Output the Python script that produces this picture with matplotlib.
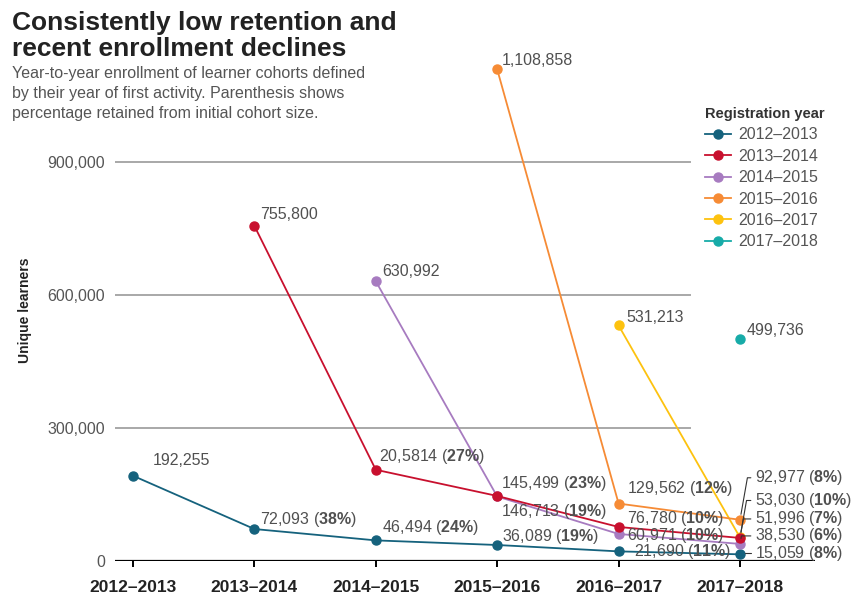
import matplotlib
matplotlib.use("Agg")
import matplotlib.pyplot as plt
from matplotlib.ticker import FuncFormatter

plt.rcParams["font.family"] = ["Liberation Sans", "DejaVu Sans"]
plt.rcParams["mathtext.fontset"] = "custom"
plt.rcParams["mathtext.rm"] = "Liberation Sans"
plt.rcParams["mathtext.bf"] = "Liberation Sans:bold"

# ---------------- Data ----------------
years = ["2012–2013", "2013–2014", "2014–2015", "2015–2016", "2016–2017", "2017–2018"]

c2012 = [192255, 72093, 46494, 36089, 21690, 15059]
c2013 = [755800, 205814, 146713, 76780, 51996]
c2014 = [630992, 145499, 60971, 38530]
c2015 = [1108858, 129562, 92977]
c2016 = [531213, 53030]
c2017 = [499736]

# printed labels (number, bold share) as in the source graphic
lab2012 = [("192,255", None), ("72,093", "38%"), ("46,494", "24%"), ("36,089", "19%"), ("21,690", "11%"), ("15,059", "8%")]
lab2013 = [("755,800", None), ("20,5814", "27%"), ("146,713", "19%"), ("76,780", "10%"), ("51,996", "7%")]
lab2014 = [("630,992", None), ("145,499", "23%"), ("60,971", "10%"), ("38,530", "6%")]
lab2015 = [("1,108,858", None), ("129,562", "12%"), ("92,977", "8%")]
lab2016 = [("531,213", None), ("53,030", "10%")]
lab2017 = [("499,736", None)]

series = [c2012, c2013, c2014, c2015, c2016, c2017]
labels = [lab2012, lab2013, lab2014, lab2015, lab2016, lab2017]
colors = ["#15627d", "#c8102e", "#a77bc0", "#f68b35", "#fdc20f", "#17aba8"]

# label offsets in pixels (dx, dy), per cohort and point
offsets = [
    [(20, 15), (6, 10), (6, 13), (5, 8), (15, 0), (15, 1)],
    [(6, 11), (3, 13), (4, -16), (8, 8), (15, 19)],
    [(6, 10), (4, 13), (8, -2), (15, 8)],
    [(5, 9), (8, 15), (15, 42)],
    [(8, 8), (15, 37)],
    [(7, 9)],
]

W, H = 857, 599
fig = plt.figure(figsize=(W / 100, H / 100), dpi=100)
ax = fig.add_axes([115 / W, 1 - 561 / H, 700 / W, (561 - 60) / H])
ax.set_xlim((115 - 133) / 121.4, (815 - 133) / 121.4)
ax.set_ylim(0, 1130000)

for s in ax.spines.values():
    s.set_visible(False)

for v in [300000, 600000, 900000]:
    ax.axhline(v, xmin=0, xmax=(690 - 115) / 700, color="#a8a8a8", lw=1.4, zorder=1)
ax.axhline(0, color="black", lw=1.6, zorder=2)

n = len(series)
for k in range(n):
    xs = list(range(k, k + len(series[k])))
    ax.plot(xs, series[k], color=colors[k], lw=1.3, marker="o", ms=6.5,
            label=years[k], zorder=10 - k if k > 0 else 3, clip_on=False)

for k in range(n):
    for j, (num, pct) in enumerate(labels[k]):
        x = k + j
        y = series[k][j]
        txt = num if pct is None else num + r" ($\mathbf{" + pct.replace("%", r"\%") + "}$)"
        kw = dict(textcoords="offset pixels", ha="left", va="center", fontsize=11.5,
                  color="#505050", zorder=20)
        if x == 5 and pct is not None:
            kw["arrowprops"] = dict(arrowstyle="-", color="#333333", lw=0.8, relpos=(0, 0.5),
                                    shrinkA=1, shrinkB=4,
                                    connectionstyle="angle,angleA=0,angleB=80,rad=0")
        ax.annotate(txt, xy=(x, y), xytext=offsets[k][j], **kw)

ax.set_xticks(range(len(years)))
ax.set_xticklabels(years, fontsize=12.5, fontweight="bold", color="#222222")
ax.tick_params(axis="x", direction="out", length=4.5, width=1.4, color="black", pad=9)
ax.set_yticks([0, 300000, 600000, 900000])
ax.yaxis.set_major_formatter(FuncFormatter(lambda v, p: f"{int(v):,}"))
ax.tick_params(axis="y", length=0, pad=7, labelsize=11.5, labelcolor="#555555")

leg = ax.legend(title="Registration year", loc="upper left",
                bbox_to_anchor=(705 / W, 1 - 107 / H), bbox_transform=fig.transFigure,
                frameon=False, fontsize=11.5, alignment="left",
                title_fontproperties={"weight": "bold", "size": 10.5},
                handlelength=1.6, handletextpad=0.5, labelspacing=0.4,
                borderpad=0, borderaxespad=0)
leg.get_title().set_color("#333333")
for t in leg.get_texts():
    t.set_color("#555555")

fig.text(25 / W, 1 - 310 / H, "Unique learners", rotation=90, ha="center", va="center",
         fontsize=10, fontweight="bold", color="#222222")
fig.text(12 / W, 1 - 11 / H, "Consistently low retention and\nrecent enrollment declines",
         ha="left", va="top", fontsize=19, fontweight="bold", color="#222222", linespacing=1.12)
fig.text(12 / W, 1 - 66 / H,
         "Year-to-year enrollment of learner cohorts defined\nby their year of first activity. Parenthesis shows\npercentage retained from initial cohort size.",
         ha="left", va="top", fontsize=11.5, color="#555555", linespacing=1.4)

fig.savefig("out.png", dpi=100)
